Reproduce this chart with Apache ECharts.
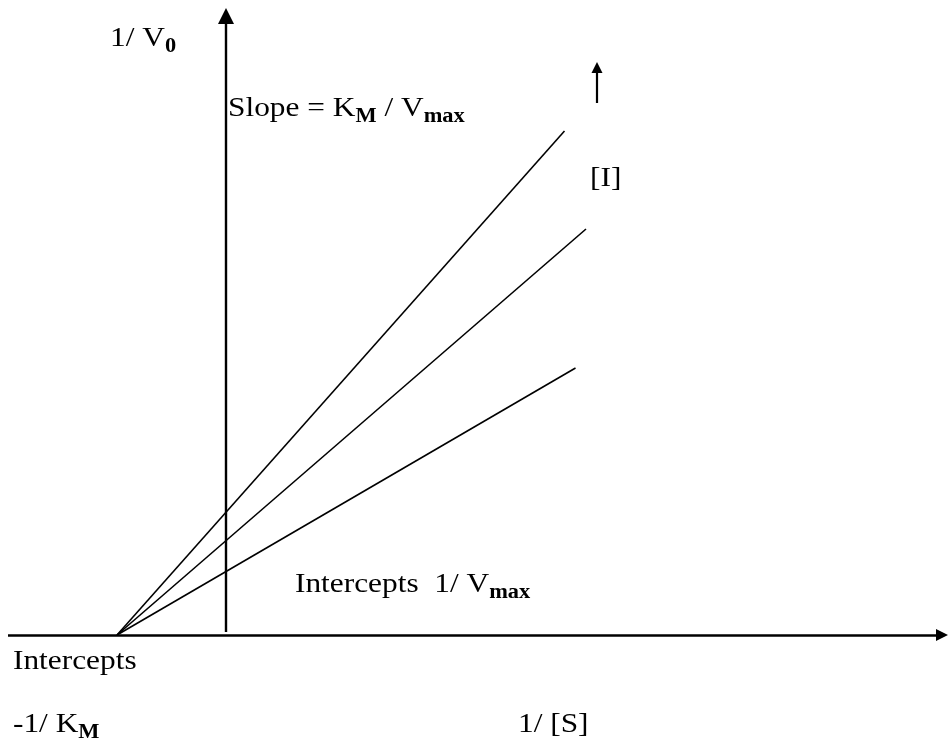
<!DOCTYPE html>
<html>
<head>
<meta charset="utf-8">
<script src="https://cdn.jsdelivr.net/npm/echarts@6/dist/echarts.min.js"></script>
<style>html,body{margin:0;padding:0;background:#fff;}#c{width:948px;height:746px;}</style>
</head>
<body>
<div id="c"></div>
<script>
// Lineweaver-Burk plot (units: 1/[S] horizontally, 1/V0 vertically)
const convergenceX = -1.09;               // -1/KM, common x-intercept
const lineEndX = [3.385, 3.60, 3.495];    // increasing [I] -> steeper
const lineEndY = [5.04, 4.06, 2.67];
const xAxisSpan = [-2.18, 7.16];          // horizontal axis (y = 0)
const yAxisSpan = [0.03, 6.19];           // vertical axis (x = 0)
const inhibArrowX = 3.71;
const inhibArrowY = [5.32, 5.675];
const labels = {
  yTitle: '{m|1/ V}{s|0}',
  slope: '{m|Slope = K}{s|M}{m| / V}{s|max}',
  inhib: '{m|[I]}',
  yInt: '{m|Intercepts  1/ V}{s|max}',
  xInt1: '{m|Intercepts}',
  xInt2: '{m|-1/ K}{s|M}',
  xTitle: '{m|1/ [S]}'
};

const FONT = 'Liberation Serif';
const rich = {
  m: {fontFamily: FONT, fontSize: 28, lineHeight: 36, verticalAlign: 'middle', color: '#000'},
  s: {fontFamily: FONT, fontSize: 20, fontWeight: 'bold', lineHeight: 36, verticalAlign: 'bottom', color: '#000'}
};
function txt(text, left, baseline) {
  return {type: 'text', left: left, top: baseline - 22, silent: true,
    scaleX: 1.12, originX: 0, originY: 0,
    style: {text: text, rich: rich, fill: '#000', font: '28px ' + FONT}};
}

const lineSeries = lineEndX.map((ex, i) => ({
  type: 'line', symbol: 'none', silent: true,
  lineStyle: {color: '#000', width: 1.6},
  data: [[convergenceX, 0], [ex, lineEndY[i]]]
}));

const arrows = {
  type: 'lines', coordinateSystem: 'cartesian2d', silent: true,
  symbol: ['none', 'triangle'],
  data: [
    {coords: [[xAxisSpan[0], 0], [xAxisSpan[1], 0]], lineStyle: {width: 2.6}, symbolSize: [13, 12]},
    {coords: [[0, yAxisSpan[0]], [0, yAxisSpan[1]]], lineStyle: {width: 2.4}, symbolSize: [17, 16]},
    {coords: [[inhibArrowX, inhibArrowY[0]], [inhibArrowX, inhibArrowY[1]]], lineStyle: {width: 2.2}, symbolSize: [12, 11]}
  ],
  lineStyle: {color: '#000', width: 2.4, opacity: 1, curveness: 0}
};

const chart = echarts.init(document.getElementById('c'), null, {renderer: 'canvas'});
chart.setOption({
  animation: false,
  backgroundColor: '#fff',
  grid: {left: 0, right: 0, top: 0, bottom: 0},
  xAxis: {type: 'value', min: -2.26, max: 7.22, show: false},
  yAxis: {type: 'value', min: -1.11, max: 6.35, show: false},
  series: lineSeries.concat([arrows]),
  graphic: [
    txt(labels.yTitle, 110, 47),
    txt(labels.slope, 228, 117),
    txt(labels.inhib, 590, 187),
    txt(labels.yInt, 295, 593),
    txt(labels.xInt1, 13, 670),
    txt(labels.xInt2, 13, 733),
    txt(labels.xTitle, 518, 733)
  ]
});
</script>
</body>
</html>
